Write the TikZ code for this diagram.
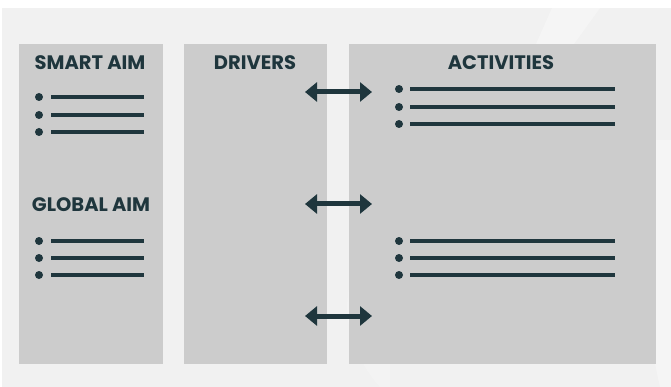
\documentclass[tikz,border=0pt]{standalone}
\usepackage{fontspec}
\setmainfont{Poppins}
\usetikzlibrary{arrows.meta}
\definecolor{bgc}{HTML}{F1F1F1}
\definecolor{panelc}{HTML}{CCCCCC}
\definecolor{inkc}{HTML}{1F363D}
\tikzset{
  panel/.style={fill=panelc, draw=none, inner sep=0pt, anchor=north west},
  head/.style={text=inkc, font=\fontsize{19.5}{19.5}\selectfont\bfseries, inner sep=0pt, anchor=center},
  bline/.style={draw=inkc, line width=3.2pt},
  bdot/.style={fill=inkc, draw=none},
  dblarrow/.style={draw=inkc, line width=5pt, {Triangle[length=12pt,width=19pt]}-{Triangle[length=12pt,width=19pt]}}
}
\begin{document}
\begin{tikzpicture}[x=1pt,y=-1pt]
\useasboundingbox (0,0) rectangle (671,387);
\fill[white] (0,0) rectangle (671,387);
\fill[bgc] (2,8) rectangle (671,387);
% faint watermark shapes
\fill[white, opacity=0.3] (552,8) -- (600,8) -- (574,44) -- (536,44) -- cycle;
\fill[white, opacity=0.3] (656,140) .. controls (640,220) and (640,300) .. (660,387) -- (671,387) -- (671,140) -- cycle;
\fill[white, opacity=0.2] (380,387) .. controls (330,330) and (340,260) .. (390,230) -- (390,387) -- cycle;
% panels
\node[panel, minimum width=144pt, minimum height=320pt] (aim) at (19,44) {};
\node[panel, minimum width=143pt, minimum height=320pt] (drv) at (184,44) {};
\node[panel, minimum width=307pt, minimum height=320pt] (act) at (349,44) {};
% headings
\node[head] (smart) at (90,63) {SMART AIM};
\node[head] (drvh) at (255,63) {DRIVERS};
\node[head] (acth) at (501,63) {ACTIVITIES};
\node[head] (glob) at (91,205) {GLOBAL AIM};
% bullet lists
\foreach \y in {97,115,132,241,258,275} {
  \fill[bdot] (39,\y) circle (4pt);
  \draw[bline] (51,\y) -- (144,\y);
}
\foreach \y in {89,107,124,241,258,275} {
  \fill[bdot] (399,\y) circle (4pt);
  \draw[bline] (410,\y) -- (615,\y);
}
% arrows
\coordinate (l1) at (305,92); \coordinate (r1) at (372,92);
\coordinate (l2) at (305,204); \coordinate (r2) at (372,204);
\coordinate (l3) at (305,316); \coordinate (r3) at (372,316);
\draw[dblarrow] (l1) -- (r1);
\draw[dblarrow] (l2) -- (r2);
\draw[dblarrow] (l3) -- (r3);
\end{tikzpicture}
\end{document}
